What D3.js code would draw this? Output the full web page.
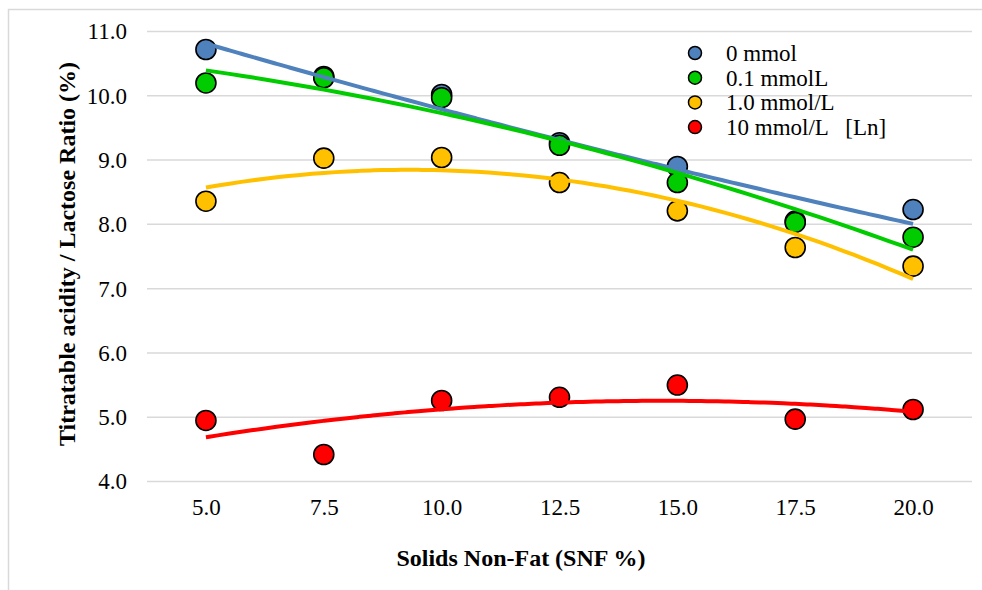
<!DOCTYPE html>
<html><head><meta charset="utf-8">
<script src="https://cdn.jsdelivr.net/npm/d3@7"></script>
<style>
body{margin:0;background:#fff;}
</style></head>
<body><svg id="c" width="982" height="590" font-family="Liberation Serif"></svg>
<script>
const snf = [5.0, 7.5, 10.0, 12.5, 15.0, 17.5, 20.0];
const seriesNames = ["0 mmol", "0.1 mmolL", "1.0 mmol/L", "10 mmol/L   [Ln]"];
const s0 = [10.72, 10.30, 10.02, 9.27, 8.90, 8.05, 8.23];
const s01 = [10.20, 10.28, 9.97, 9.23, 8.65, 8.03, 7.80];
const s1 = [8.36, 9.03, 9.04, 8.65, 8.21, 7.64, 7.35];
const s10 = [4.95, 4.42, 5.26, 5.31, 5.50, 4.97, 5.12];
const colors = ["#4F81BD", "#00CC00", "#FFC000", "#FF0000"];
const yTicks = [4, 5, 6, 7, 8, 9, 10, 11];

const allSeries = [s0, s01, s1, s10];
const svg = d3.select("#c");
const FF = "Liberation Serif";

svg.append("rect").attr("x", 8.5).attr("y", 9.5).attr("width", 1100).attr("height", 1000)
  .attr("fill", "none").attr("stroke", "#d9d9d9").attr("stroke-width", 1.5);

const x = d3.scaleLinear().domain([3.75, 21.25]).range([147, 972]);
const y = d3.scaleLinear().domain([4, 11]).range([481.5, 31.5]);

// gridlines
svg.append("g").selectAll("line").data(yTicks).join("line")
  .attr("x1", 147).attr("x2", 972)
  .attr("y1", d => y(d)).attr("y2", d => y(d))
  .attr("stroke", "#d9d9d9").attr("stroke-width", 1.5);

// y axis
const ya = svg.append("g").attr("transform", "translate(147,0)")
  .call(d3.axisLeft(y).tickValues(yTicks).tickFormat(d3.format(".1f")).tickSize(0).tickPadding(20));
ya.attr("font-family", FF).attr("font-size", 23);
ya.select(".domain").remove();
ya.selectAll("text").attr("fill", "#000");

// x axis
const xa = svg.append("g").attr("transform", "translate(0,481.5)")
  .call(d3.axisBottom(x).tickValues(snf).tickFormat(d3.format(".1f")).tickSize(0).tickPadding(17));
xa.attr("font-family", FF).attr("font-size", 23);
xa.select(".domain").remove();
xa.selectAll("text").attr("fill", "#000");

// titles
svg.append("text").attr("x", 521).attr("y", 566).attr("text-anchor", "middle")
  .attr("font-family", FF).attr("font-size", 24).attr("font-weight", "bold").text("Solids Non-Fat (SNF %)");
svg.append("text").attr("transform", "translate(75,254) rotate(-90)").attr("text-anchor", "middle")
  .attr("font-family", FF).attr("font-size", 24).attr("font-weight", "bold").text("Titratable acidity / Lactose Ratio (%)");

// points
allSeries.forEach((s, i) => {
  svg.append("g").selectAll("circle").data(s).join("circle")
    .attr("cx", (d, j) => x(snf[j])).attr("cy", d => y(d)).attr("r", 10)
    .attr("fill", colors[i]).attr("stroke", "#000").attr("stroke-width", 1.6);
});

// quadratic least-squares trendlines
function quadFit(xs, ys) {
  let S = [0,0,0,0,0], T = [0,0,0];
  xs.forEach((xv, k) => {
    for (let p = 0; p < 5; p++) S[p] += Math.pow(xv, p);
    for (let p = 0; p < 3; p++) T[p] += ys[k] * Math.pow(xv, p);
  });
  const A = [[S[0],S[1],S[2],T[0]],[S[1],S[2],S[3],T[1]],[S[2],S[3],S[4],T[2]]];
  for (let i = 0; i < 3; i++) {
    for (let r = i + 1; r < 3; r++) {
      const f = A[r][i] / A[i][i];
      for (let c = i; c < 4; c++) A[r][c] -= f * A[i][c];
    }
  }
  const c = [0,0,0];
  for (let i = 2; i >= 0; i--) {
    let v = A[i][3];
    for (let k = i + 1; k < 3; k++) v -= A[i][k] * c[k];
    c[i] = v / A[i][i];
  }
  return t => c[0] + c[1] * t + c[2] * t * t;
}
const samples = d3.range(5, 20.001, 0.25);
const line = d3.line().x(d => x(d[0])).y(d => y(d[1])).curve(d3.curveMonotoneX);
allSeries.forEach((s, i) => {
  const f = quadFit(snf, s);
  svg.append("path").datum(samples.map(t => [t, f(t)])).attr("d", line)
    .attr("fill", "none").attr("stroke", colors[i]).attr("stroke-width", 4);
});

// legend
const lg = svg.append("g");
seriesNames.forEach((n, i) => {
  const yy = 53 + i * 24.7;
  lg.append("circle").attr("cx", 695).attr("cy", yy).attr("r", 6.5)
    .attr("fill", colors[i]).attr("stroke", "#000").attr("stroke-width", 1.5);
  lg.append("text").attr("x", 726).attr("y", yy + 8).attr("font-family", FF).attr("font-size", 23)
    .style("white-space", "pre").text(n);
});
</script></body></html>
